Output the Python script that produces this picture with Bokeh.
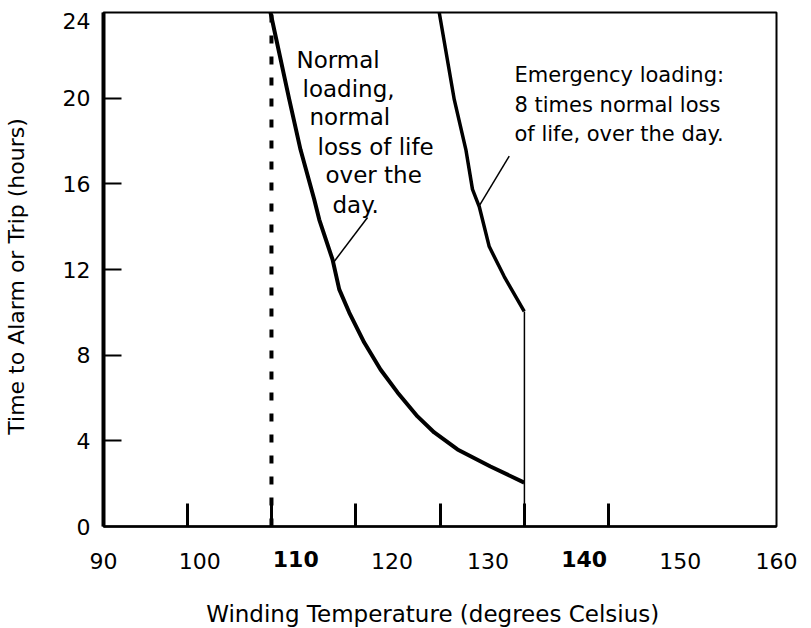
from bokeh.plotting import figure
from bokeh.models import FixedTicker, LinearAxis, Range1d
from bokeh.embed import file_html
from bokeh.resources import INLINE
from bokeh.core.properties import value

# ---------------- data ----------------
x_tick_labels = [90, 100, 120, 130, 150, 160]
bold_x_labels = [110, 140]
x_tick_marks = [98.74, 107.47, 116.21, 125.05, 133.79, 142.53]
y_tick_labels = [0, 4, 8, 12, 16, 20]
y_top_label = 24
y_top_label_pos = 23.58
y_tick_marks = [4, 8, 12, 16, 20]

normal_temp = [107.37, 109.32, 110.49, 111.92, 112.44, 113.82, 114.52, 115.56,
               117.12, 118.81, 120.58, 122.66, 124.40, 126.82, 130.25, 133.76]
normal_hours = [24.0, 19.94, 17.60, 15.27, 14.33, 12.47, 11.07, 9.99,
                8.59, 7.33, 6.26, 5.14, 4.39, 3.60, 2.80, 2.05]

emerg_temp = [124.92, 126.48, 127.69, 128.38, 129.08, 130.12, 131.68, 133.76]
emerg_hours = [24.0, 19.94, 17.60, 15.74, 14.94, 13.07, 11.67, 10.04]

alarm_temp = 107.47
trip_temp = 133.78
trip_line_hours = [0, 10.04]
alarm_line_hours = [0, 24]

normal_leader_temp = [117.46, 113.92]
normal_leader_hours = [14.43, 12.33]
emerg_leader_temp = [132.20, 129.08]
emerg_leader_hours = [17.29, 14.97]

normal_note_lines = ["Normal", "loading,", "normal", "loss of life", "over the", "day."]
normal_note_temp = [110.07, 110.70, 111.43, 112.26, 113.09, 113.82]
normal_note_hours = [21.80, 20.45, 19.10, 17.74, 16.39, 15.03]

emerg_note_lines = ["Emergency loading:", "8 times normal loss", "of life, over the day."]
emerg_note_temp = [132.75, 132.75, 132.75]
emerg_note_hours = [21.06, 19.68, 18.32]

x_title = "Winding Temperature   (degrees Celsius)"
y_title = "Time to Alarm or Trip   (hours)"

FONT = "DejaVu Sans"
TICK_FS = "22px"

p = figure(frame_width=673, frame_height=514,
           x_range=Range1d(90, 160), y_range=Range1d(0, 24),
           output_backend="svg", toolbar_location=None,
           min_border_left=100, min_border_right=22,
           min_border_top=12, min_border_bottom=90)

p.xgrid.visible = False
p.ygrid.visible = False
p.outline_line_color = "black"
p.outline_line_width = 2
p.background_fill_color = "white"
p.border_fill_color = "white"

# x axis (nearest the frame): line, tick marks and the bold labels
xa = p.xaxis[0]
xa.ticker = FixedTicker(ticks=bold_x_labels, minor_ticks=x_tick_marks)
xa.major_tick_in = 0
xa.major_tick_out = 0
xa.minor_tick_in = 23
xa.minor_tick_out = 0
xa.minor_tick_line_width = 3
xa.minor_tick_line_color = "black"
xa.axis_line_width = 2.5
xa.axis_line_color = "black"
xa.major_label_text_font = FONT
xa.major_label_text_font_size = TICK_FS
xa.major_label_text_font_style = "bold"
xa.major_label_text_color = "black"
xa.major_label_standoff = 24

# second x axis: regular labels on the same row, plus the axis title
xb = LinearAxis(ticker=FixedTicker(ticks=x_tick_labels, minor_ticks=[]))
xb.axis_line_color = None
xb.major_tick_line_color = None
xb.minor_tick_line_color = None
xb.major_tick_in = 0
xb.major_tick_out = 0
xb.minor_tick_in = 0
xb.minor_tick_out = 0
xb.major_label_text_font = FONT
xb.major_label_text_font_size = TICK_FS
xb.major_label_text_color = "black"
xb.major_label_standoff = -17
xb.axis_label = x_title
xb.axis_label_text_font = FONT
xb.axis_label_text_font_size = "23px"
xb.axis_label_text_font_style = "normal"
xb.axis_label_text_color = "black"
xb.axis_label_standoff = 29
p.add_layout(xb, "below")

# y axis
ya = p.yaxis[0]
ya.ticker = FixedTicker(ticks=y_tick_labels + [y_top_label_pos], minor_ticks=y_tick_marks)
ya.major_label_overrides = {y_top_label_pos: str(y_top_label)}
ya.major_tick_in = 0
ya.major_tick_out = 0
ya.minor_tick_in = 18
ya.minor_tick_out = 0
ya.minor_tick_line_width = 2
ya.minor_tick_line_color = "black"
ya.axis_line_width = 4
ya.axis_line_color = "black"
ya.major_label_text_font = FONT
ya.major_label_text_font_size = TICK_FS
ya.major_label_text_color = "black"
ya.major_label_standoff = 13
ya.axis_label = y_title
ya.axis_label_text_font = FONT
ya.axis_label_text_font_size = "22px"
ya.axis_label_text_font_style = "normal"
ya.axis_label_text_color = "black"
ya.axis_label_standoff = 31

# alarm (dashed) and trip lines
p.line([alarm_temp, alarm_temp], alarm_line_hours, line_color="black",
       line_width=4, line_dash="8 13")
p.line([trip_temp, trip_temp], trip_line_hours, line_color="black", line_width=1.5)

# curves
p.line(normal_temp, normal_hours, line_color="black", line_width=4, line_join="round")
p.line(emerg_temp, emerg_hours, line_color="black", line_width=3.5, line_join="round")

# leader lines
p.line(normal_leader_temp, normal_leader_hours, line_color="black", line_width=1.5)
p.line(emerg_leader_temp, emerg_leader_hours, line_color="black", line_width=1.5)

# notes
p.text(x=normal_note_temp, y=normal_note_hours, text=normal_note_lines,
       text_font=value(FONT), text_font_size="23px", text_align="left",
       text_baseline="alphabetic", text_color="black")
p.text(x=emerg_note_temp, y=emerg_note_hours, text=emerg_note_lines,
       text_font=value(FONT), text_font_size="21px", text_align="left",
       text_baseline="alphabetic", text_color="black")

open("out.html", "w").write(file_html(p, INLINE))
